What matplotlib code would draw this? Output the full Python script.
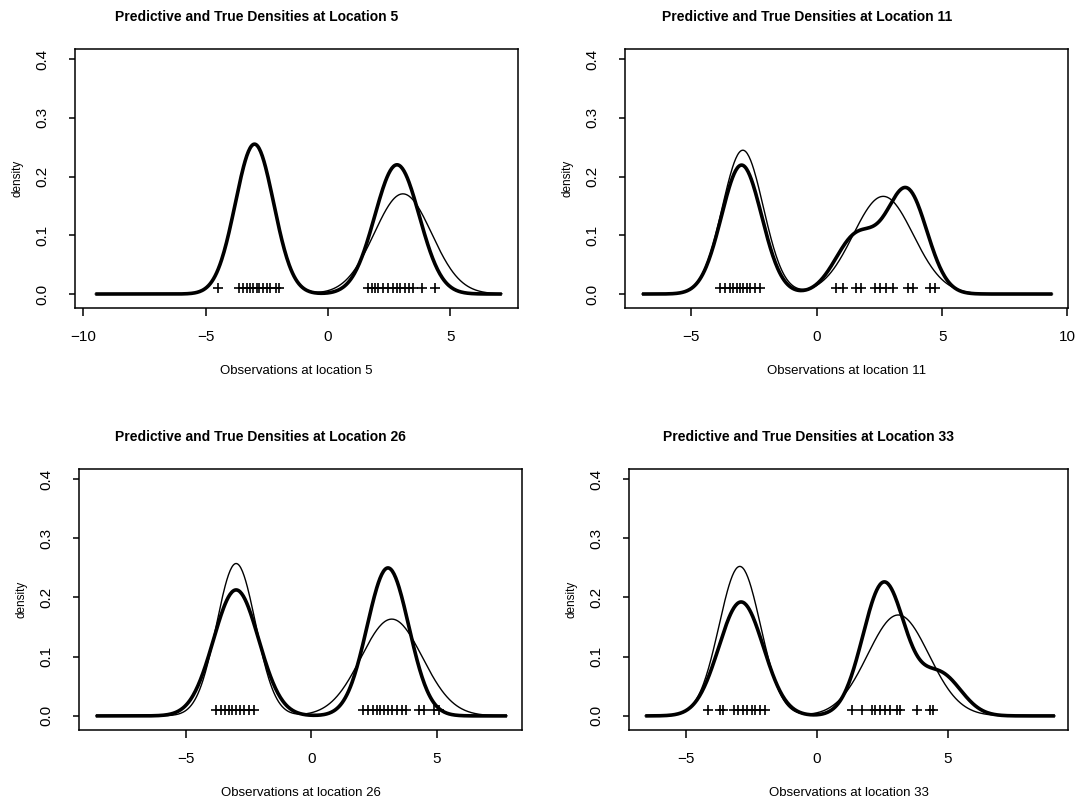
import numpy as np
import matplotlib
matplotlib.use("Agg")
import matplotlib.pyplot as plt

plt.rcParams['font.family'] = ['Liberation Sans', 'DejaVu Sans']

locations = [5, 11, 26, 33]

# observed values at each location (rug of "+")
obs_5 = [-4.49, -3.62, -3.48, -3.32, -3.18, -3.05, -2.91, -2.80, -2.64, -2.50, -2.37, -2.12, -1.99,
         1.65, 1.78, 1.92, 2.05, 2.26, 2.46, 2.67, 2.80, 2.94, 3.14, 3.32, 3.48, 3.82, 4.37]
obs_11 = [-3.86, -3.67, -3.47, -3.33, -3.20, -3.07, -2.94, -2.80, -2.67, -2.47, -2.27,
          0.78, 1.05, 1.58, 1.78, 2.31, 2.51, 2.78, 3.04, 3.64, 3.84, 4.50, 4.70]
obs_26 = [-3.80, -3.60, -3.45, -3.30, -3.15, -3.00, -2.85, -2.70, -2.50, -2.30,
          2.05, 2.25, 2.45, 2.60, 2.75, 2.90, 3.05, 3.20, 3.40, 3.60, 3.75, 4.30, 4.50, 4.90, 5.10]
obs_33 = [-4.15, -3.70, -3.58, -3.19, -3.00, -2.81, -2.68, -2.49, -2.37, -2.18, -1.98,
          1.32, 1.71, 2.09, 2.21, 2.40, 2.60, 2.79, 3.04, 3.17, 3.80, 4.31, 4.44]

# predictive density (thick line): normal mixture weights, means, sds
pred_w_5, pred_mu_5, pred_sd_5 = [0.5, 0.5], [-3.0, 2.82], [0.782, 0.907]
pred_w_11, pred_mu_11, pred_sd_11 = [0.44, 0.21, 0.35], [-3.0, 1.6, 3.6], [0.80, 0.85, 0.80]
pred_w_26, pred_mu_26, pred_sd_26 = [0.48, 0.52], [-3.0, 3.05], [0.90, 0.83]
pred_w_33, pred_mu_33, pred_sd_33 = [0.41, 0.45, 0.14], [-2.9, 2.55, 4.7], [0.85, 0.80, 0.80]

# true density (thin line)
true_w_5, true_mu_5, true_sd_5 = [0.5, 0.5], [-3.0, 3.06], [0.782, 1.17]
true_w_11, true_mu_11, true_sd_11 = [0.5, 0.5], [-2.95, 2.65], [0.815, 1.20]
true_w_26, true_mu_26, true_sd_26 = [0.5, 0.5], [-3.0, 3.2], [0.775, 1.22]
true_w_33, true_mu_33, true_sd_33 = [0.5, 0.5], [-2.95, 3.1], [0.79, 1.17]

# range of the density grid per location
grid_lo = [-9.5, -6.97, -8.59, -6.56]
grid_hi = [7.1, 9.4, 7.79, 9.08]

obs = [obs_5, obs_11, obs_26, obs_33]
pred = [(pred_w_5, pred_mu_5, pred_sd_5), (pred_w_11, pred_mu_11, pred_sd_11),
        (pred_w_26, pred_mu_26, pred_sd_26), (pred_w_33, pred_mu_33, pred_sd_33)]
true = [(true_w_5, true_mu_5, true_sd_5), (true_w_11, true_mu_11, true_sd_11),
        (true_w_26, true_mu_26, true_sd_26), (true_w_33, true_mu_33, true_sd_33)]


def mixdens(x, w, mu, sd):
    d = np.zeros_like(x)
    for wi, mi, si in zip(w, mu, sd):
        d += wi * np.exp(-0.5 * ((x - mi) / si) ** 2) / (si * np.sqrt(2 * np.pi))
    return d


W, H = 1079, 806
fig = plt.figure(figsize=(W / 100, H / 100), dpi=100)

# axes boxes in pixels: left, right, top, bottom
boxes = [(75, 518, 49, 308), (625, 1068, 49, 308),
         (79, 522, 469, 730), (629, 1068, 469, 730)]
xlims = [(-10.33, 7.76), (-7.65, 10.02), (-9.26, 8.39), (-7.18, 9.58)]

for i, loc in enumerate(locations):
    l, r, t, b = boxes[i]
    ax = fig.add_axes([l / W, 1 - b / H, (r - l) / W, (b - t) / H])
    x = np.linspace(grid_lo[i], grid_hi[i], 500)
    ax.plot(x, mixdens(x, *pred[i]), color='black', lw=2.6, solid_capstyle='butt')
    ax.plot(x, mixdens(x, *true[i]), color='black', lw=1.0)
    ax.plot(obs[i], np.full(len(obs[i]), 0.01), '+', color='black', ms=7, mew=1.2)

    ax.set_xlim(*xlims[i])
    ax.set_ylim(-0.0238, 0.417)
    xt = [v for v in (-10, -5, 0, 5, 10) if xlims[i][0] <= v <= xlims[i][1]]
    ax.set_xticks(xt)
    ax.set_xticklabels([str(v).replace('-', '\u2212') for v in xt])
    ax.set_yticks([0.0, 0.1, 0.2, 0.3, 0.4])
    ax.set_yticklabels(['0.0', '0.1', '0.2', '0.3', '0.4'], rotation=90, va='center')
    ax.tick_params(axis='x', length=6, width=1.1, pad=10, labelsize=11)
    ax.tick_params(axis='y', length=4.5, width=1.1, pad=14, labelsize=11)
    for s in ax.spines.values():
        s.set_linewidth(1.1)

    ttl = ax.set_title(f'Predictive and True Densities at Location {loc}',
                       fontsize=10, fontweight='bold', pad=20)
    ttl.set_x(0.41)
    ax.set_xlabel(f'Observations at location {loc}', fontsize=9.5)
    ax.xaxis.set_label_coords(0.5, -0.22)
    ax.set_ylabel('density', fontsize=8.5)
    ax.yaxis.set_label_coords(-0.117, 0.5)

fig.savefig('out.png', dpi=100)
